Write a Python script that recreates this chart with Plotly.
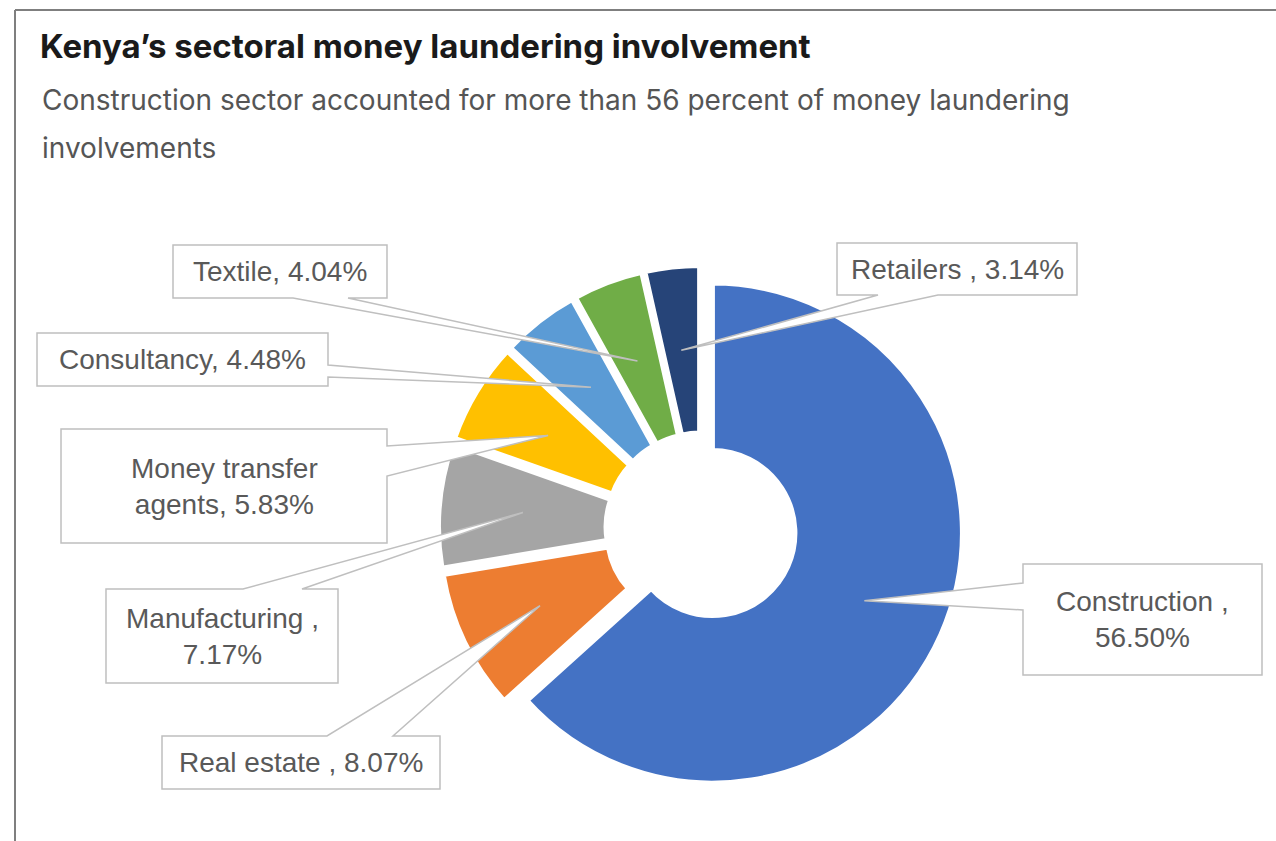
import math
import plotly.graph_objects as go

# Sector shares of money laundering involvements (percent)
sectors = ["Construction", "Real estate", "Manufacturing", "Money transfer agents",
           "Consultancy", "Textile", "Retailers"]
shares = [56.50, 8.07, 7.17, 5.83, 4.48, 4.04, 3.14]
colors = ["#4472C4", "#ED7D31", "#A5A5A5", "#FFC000", "#5B9BD5", "#70AD47", "#264478"]

title = "Kenya\u2019s sectoral money laundering involvement"
subtitle_lines = ["Construction sector accounted for more than 56 percent of money laundering",
                  "involvements"]

W, H = 1276, 841

# Donut geometry (pixels)
CX, CY = 701, 528
R_OUT = 250
HOLE = 0.33
PULL = 0.05

# Callout boxes: (x0, y0, x1, y1), side the pointer leaves from, pointer base span
callouts = {
    "Construction":          dict(box=(1023, 564, 1262, 675), side="left",   base=(583, 610), wrap="Construction ,<br>{v}"),
    "Real estate":           dict(box=(162, 736, 440, 789),   side="top",    base=(327, 393), wrap="Real estate , {v}"),
    "Manufacturing":         dict(box=(106, 589, 338, 683),   side="top",    base=(243, 302), wrap="Manufacturing ,<br>{v}"),
    "Money transfer agents": dict(box=(61, 429, 387, 543),    side="right",  base=(446, 476), wrap="Money transfer<br>agents, {v}"),
    "Consultancy":           dict(box=(37, 333, 328, 386),    side="right",  base=(365, 377), wrap="Consultancy, {v}"),
    "Textile":               dict(box=(173, 245, 387, 298),   side="bottom", base=(293, 348), wrap="Textile, {v}"),
    "Retailers":             dict(box=(837, 243, 1077, 295),  side="bottom", base=(878, 938), wrap="Retailers , {v}"),
}


def px(x):
    return x / W


def py(y):
    return 1 - y / H


half = R_OUT * (1 + PULL)
fig = go.Figure(go.Pie(
    labels=sectors,
    values=shares,
    sort=False,
    direction="clockwise",
    rotation=0,
    hole=HOLE,
    pull=[PULL] * len(shares),
    marker=dict(colors=colors, line=dict(color="white", width=5)),
    textinfo="none",
    hoverinfo="label+percent",
    showlegend=False,
    domain=dict(x=[px(CX - half), px(CX + half)], y=[py(CY + half), py(CY - half)]),
))

shapes = []
annotations = []

# Frame around the chart
shapes.append(dict(type="line", xref="paper", yref="paper", x0=px(15), x1=px(15), y0=py(10), y1=0,
                   line=dict(color="#7f7f7f", width=2)))
shapes.append(dict(type="line", xref="paper", yref="paper", x0=px(15), x1=1, y0=py(10), y1=py(10),
                   line=dict(color="#7f7f7f", width=2)))

total = sum(shares)
cum = 0.0
tip_r = PULL * R_OUT + (HOLE * R_OUT + R_OUT) / 2
for name, v in zip(sectors, shares):
    mid = (cum + v / 2) / total * 2 * math.pi
    cum += v
    tx = CX + tip_r * math.sin(mid)
    ty = CY - tip_r * math.cos(mid)
    c = callouts[name]
    x0, y0, x1, y1 = c["box"]
    b1, b2 = c["base"]
    tip = (tx, ty)
    pts = [(x0, y0)]
    if c["side"] == "top":
        pts += [(b1, y0), tip, (b2, y0)]
    pts.append((x1, y0))
    if c["side"] == "right":
        pts += [(x1, b1), tip, (x1, b2)]
    pts.append((x1, y1))
    if c["side"] == "bottom":
        pts += [(b2, y1), tip, (b1, y1)]
    pts.append((x0, y1))
    if c["side"] == "left":
        pts += [(x0, b2), tip, (x0, b1)]
    path = "M " + " L ".join(f"{px(a):.5f},{py(b):.5f}" for a, b in pts) + " Z"
    shapes.append(dict(type="path", xref="paper", yref="paper", path=path, layer="above",
                       fillcolor="white", line=dict(color="#bfbfbf", width=1.5)))
    annotations.append(dict(
        xref="paper", yref="paper", x=px((x0 + x1) / 2), y=py((y0 + y1) / 2),
        xanchor="center", yanchor="middle", showarrow=False,
        text=c["wrap"].format(v=f"{v:.2f}%"),
        font=dict(family="Liberation Sans, Arial", size=28, color="#595959"),
        align="center",
    ))

annotations.append(dict(xref="paper", yref="paper", x=px(38), y=py(46), xanchor="left", yanchor="middle",
                        showarrow=False, text=title,
                        font=dict(family="Inter", size=33, color="#1a1a1a", weight=700)))
for i, line in enumerate(subtitle_lines):
    annotations.append(dict(xref="paper", yref="paper", x=px(40), y=py(100 + 48 * i), xanchor="left",
                            yanchor="middle", showarrow=False, text=line,
                            font=dict(family="Inter", size=28, color="#555555")))

fig.update_layout(
    width=W, height=H,
    margin=dict(l=0, r=0, t=0, b=0),
    paper_bgcolor="white", plot_bgcolor="white",
    shapes=shapes, annotations=annotations,
)

fig.write_html("out.html")
